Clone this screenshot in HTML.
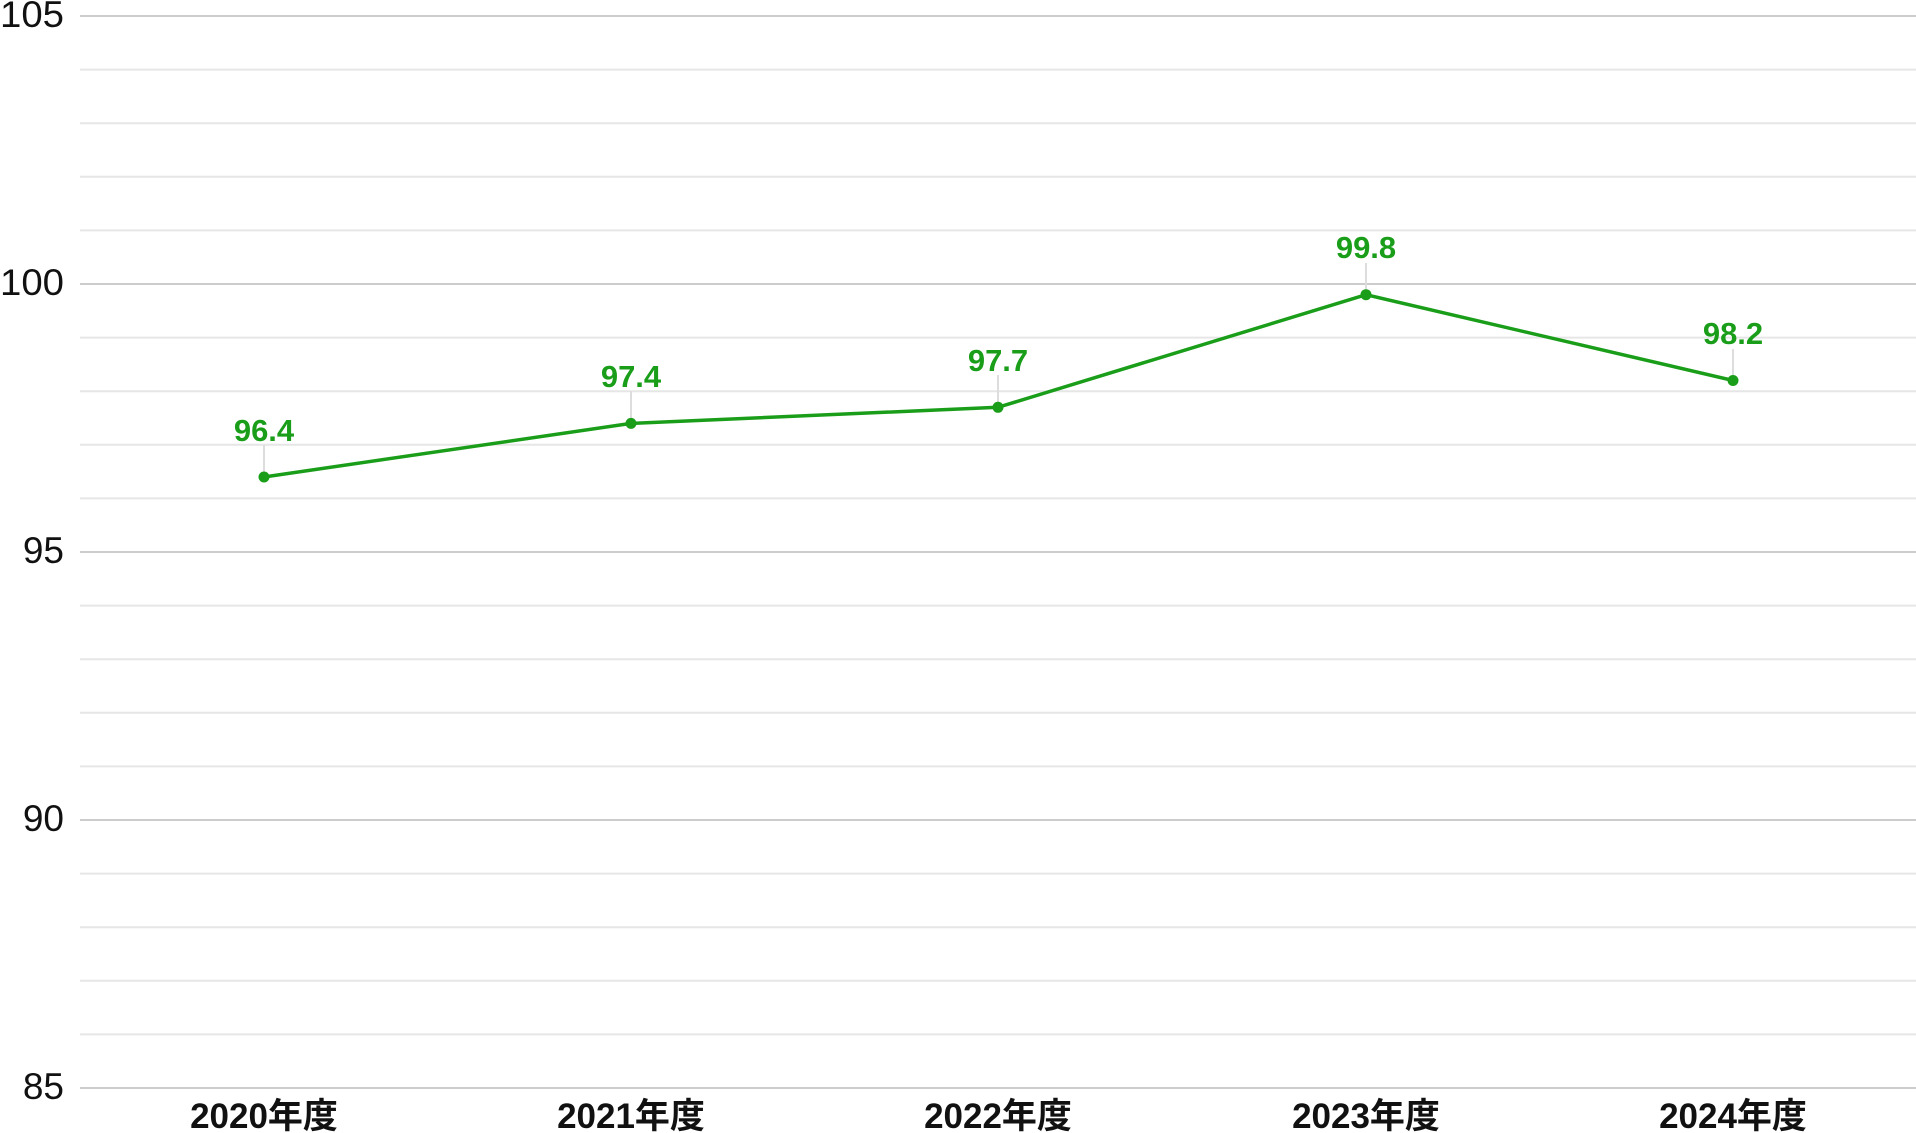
<!DOCTYPE html>
<html><head><meta charset="utf-8"><style>
html,body{margin:0;padding:0;background:#fff;}
svg{display:block;}
</style></head><body>
<svg width="1916" height="1133" viewBox="0 0 1916 1133" xmlns="http://www.w3.org/2000/svg">
<g stroke="#e6e6e6" stroke-width="2">
<line x1="80" x2="1916" y1="69.6" y2="69.6"/><line x1="80" x2="1916" y1="123.2" y2="123.2"/><line x1="80" x2="1916" y1="176.8" y2="176.8"/><line x1="80" x2="1916" y1="230.4" y2="230.4"/>
<line x1="80" x2="1916" y1="337.6" y2="337.6"/><line x1="80" x2="1916" y1="391.2" y2="391.2"/><line x1="80" x2="1916" y1="444.8" y2="444.8"/><line x1="80" x2="1916" y1="498.4" y2="498.4"/>
<line x1="80" x2="1916" y1="605.6" y2="605.6"/><line x1="80" x2="1916" y1="659.2" y2="659.2"/><line x1="80" x2="1916" y1="712.8" y2="712.8"/><line x1="80" x2="1916" y1="766.4" y2="766.4"/>
<line x1="80" x2="1916" y1="873.6" y2="873.6"/><line x1="80" x2="1916" y1="927.2" y2="927.2"/><line x1="80" x2="1916" y1="980.8" y2="980.8"/><line x1="80" x2="1916" y1="1034.4" y2="1034.4"/>
</g>
<g stroke="#cccccc" stroke-width="2">
<line x1="80" x2="1916" y1="16" y2="16"/><line x1="80" x2="1916" y1="284" y2="284"/><line x1="80" x2="1916" y1="552" y2="552"/><line x1="80" x2="1916" y1="820" y2="820"/><line x1="80" x2="1916" y1="1088" y2="1088"/>
</g>
<g font-family="Liberation Sans, sans-serif" font-size="37" fill="#111" text-anchor="end">
<text x="64" y="27" textLength="64" lengthAdjust="spacingAndGlyphs">105</text><text x="64" y="295" textLength="64" lengthAdjust="spacingAndGlyphs">100</text><text x="64" y="563">95</text><text x="64" y="831">90</text><text x="64" y="1099">85</text>
</g>
<g font-family="Liberation Sans, 'Noto Sans CJK JP', sans-serif" font-size="35" font-weight="bold" fill="#111" text-anchor="middle">
<text x="264" y="1128">2020年度</text><text x="631" y="1128">2021年度</text><text x="998" y="1128">2022年度</text><text x="1366" y="1128">2023年度</text><text x="1733" y="1128">2024年度</text>
</g>
<g stroke="#dddddd" stroke-width="2">
<line x1="264" x2="264" y1="445" y2="477"/><line x1="631" x2="631" y1="391" y2="423"/><line x1="998" x2="998" y1="375" y2="407"/><line x1="1366" x2="1366" y1="263" y2="295"/><line x1="1733" x2="1733" y1="349" y2="381"/>
</g>
<polyline fill="none" stroke="#1a9e1a" stroke-width="3.5" points="264,477 631,423.4 998,407.3 1366,294.7 1733,380.5"/>
<g fill="#1a9e1a">
<circle cx="264" cy="477" r="5.5"/><circle cx="631" cy="423.4" r="5.5"/><circle cx="998" cy="407.3" r="5.5"/><circle cx="1366" cy="294.7" r="5.5"/><circle cx="1733" cy="380.5" r="5.5"/>
</g>
<g font-family="Liberation Sans, sans-serif" font-size="31" font-weight="bold" fill="#1a9e1a" text-anchor="middle">
<text x="264" y="441">96.4</text><text x="631" y="387">97.4</text><text x="998" y="371">97.7</text><text x="1366" y="258">99.8</text><text x="1733" y="344">98.2</text>
</g>
</svg>
</body></html>
